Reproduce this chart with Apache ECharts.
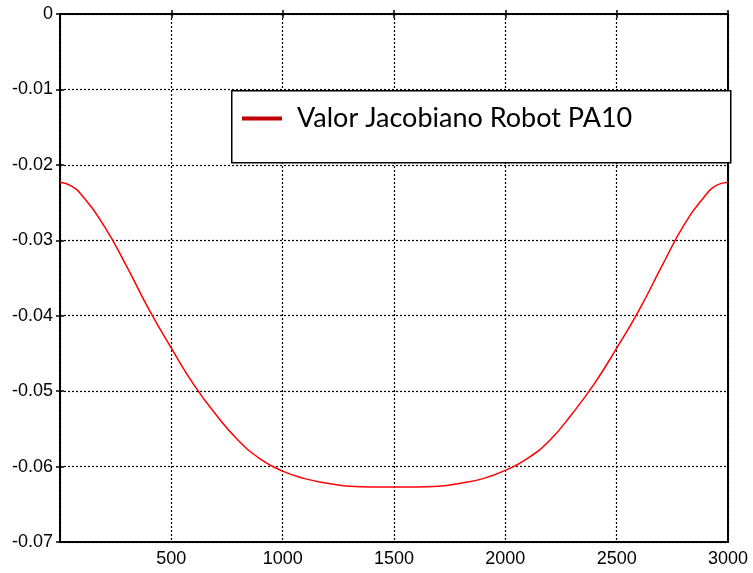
<!DOCTYPE html>
<html>
<head>
<meta charset="utf-8">
<script src="https://cdn.jsdelivr.net/npm/echarts@6/dist/echarts.min.js"></script>
<style>
  html, body { margin: 0; padding: 0; background: #fff; }
  #chart { width: 753px; height: 573px; }
</style>
</head>
<body>
<div id="chart"></div>
<script>
// Sample index along the trajectory
const xValues = [0, 50, 100, 200, 300, 400, 500, 600, 700, 800, 900, 1000, 1100, 1200, 1300, 1400, 1500,
                 1600, 1700, 1800, 1900, 2000, 2100, 2200, 2300, 2400, 2500, 2600, 2700, 2800, 2900, 2950, 3000];
// Jacobian determinant value of the PA10 robot
const jacobianValues = [-0.0223, -0.0228, -0.0241, -0.0282, -0.0335, -0.0392, -0.0443, -0.0491, -0.0531, -0.0565,
                        -0.0590, -0.0606, -0.0616, -0.0622, -0.0626, -0.0627, -0.0627,
                        -0.0627, -0.0626, -0.0622, -0.0616, -0.0605, -0.0589, -0.0565, -0.0530, -0.0490,
                        -0.0443, -0.0393, -0.0336, -0.0281, -0.0240, -0.0227, -0.0223];
const seriesName = 'Valor Jacobiano Robot PA10';
const yTicks = { min: -0.07, max: 0, interval: 0.01 };
const xTicks = { min: 0, max: 3000, interval: 500 };

const points = xValues.map((x, i) => [x, jacobianValues[i]]);

const chart = echarts.init(document.getElementById('chart'));
const gridLine = { show: true, lineStyle: { color: '#000', width: 1.2, type: [2, 2] } };
const innerTick = { show: true, inside: true, length: 4, lineStyle: { color: '#000', width: 1.5 } };
const labelFont = { fontFamily: 'Liberation Sans, Arial, sans-serif', fontSize: 18, color: '#000' };

chart.setOption({
  animation: false,
  backgroundColor: '#fff',
  grid: { left: 60, right: 25, top: 14, bottom: 31, show: true, borderColor: '#000', borderWidth: 2 },
  xAxis: [{
    type: 'value', min: xTicks.min, max: xTicks.max, interval: xTicks.interval,
    axisLine: { show: true, lineStyle: { color: '#000', width: 2 } },
    axisTick: innerTick,
    splitLine: gridLine,
    axisLabel: Object.assign({ margin: 8, showMinLabel: false, formatter: v => v === 0 ? '' : String(v) }, labelFont)
  }, {
    type: 'value', position: 'top', min: xTicks.min, max: xTicks.max, interval: xTicks.interval,
    axisLine: { show: false }, axisTick: innerTick, axisLabel: { show: false }, splitLine: { show: false }
  }],
  yAxis: [{
    type: 'value', min: yTicks.min, max: yTicks.max, interval: yTicks.interval,
    axisLine: { show: true, lineStyle: { color: '#000', width: 2 } },
    axisTick: innerTick,
    splitLine: gridLine,
    axisLabel: Object.assign({ margin: 7, formatter: v => v === 0 ? '0' : v.toFixed(2) }, labelFont)
  }, {
    type: 'value', position: 'right', min: yTicks.min, max: yTicks.max, interval: yTicks.interval,
    axisLine: { show: false }, axisTick: innerTick, axisLabel: { show: false }, splitLine: { show: false }
  }],
  graphic: [{
    type: 'rect', left: 231, top: 90, z: 50,
    shape: { width: 499, height: 72 },
    style: { fill: '#fff', stroke: '#000', lineWidth: 1.5 }
  }],
  legend: {
    left: 242, top: 103, z: 60, padding: 0,
    icon: 'rect', itemWidth: 40, itemHeight: 4,
    data: [{ name: seriesName, itemStyle: { color: '#c00000' } }],
    textStyle: { fontFamily: 'Lato, sans-serif', fontSize: 27, lineHeight: 31, color: '#000', padding: [0, 0, 0, 10] }
  },
  series: [{
    name: seriesName, type: 'line', data: points, smooth: 0.5,
    showSymbol: false, symbol: 'none',
    lineStyle: { color: '#ff0000', width: 1.5 },
    itemStyle: { color: '#ff0000' }
  }]
});
</script>
</body>
</html>
